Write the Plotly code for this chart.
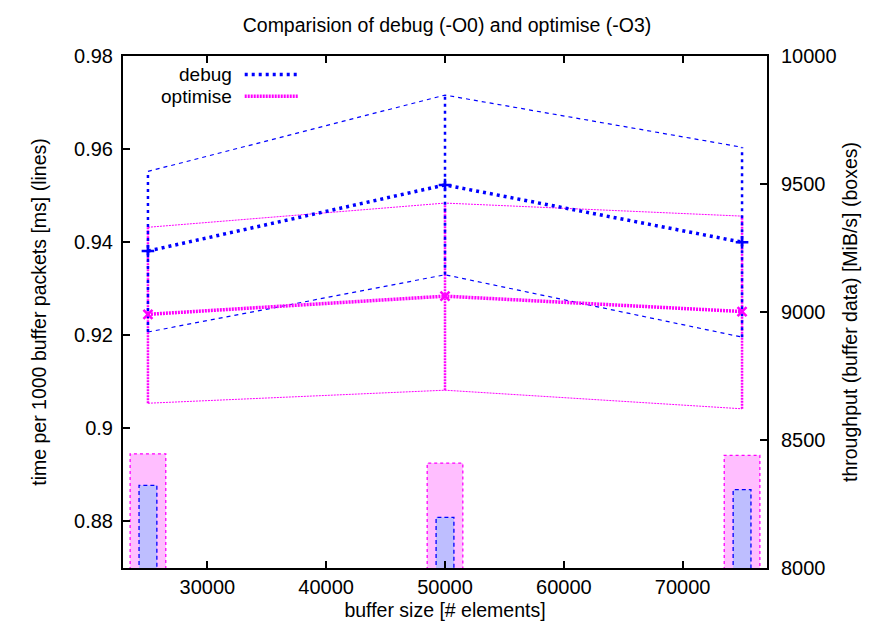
import plotly.graph_objects as go

# ---- data ----
buffer_sizes = [25000, 50000, 75000]

debug_mean = [0.9381, 0.9523, 0.9400]
debug_min = [0.9207, 0.9330, 0.9196]
debug_max = [0.9552, 0.9716, 0.9604]

opt_mean = [0.9245, 0.9284, 0.9251]
opt_min = [0.9054, 0.9082, 0.9042]
opt_max = [0.9432, 0.9484, 0.9456]

debug_throughput = [8323, 8198, 8306]
opt_throughput = [8446, 8410, 8440]

debug_box_width = 1500
opt_box_width = 3000

left_tickvals = [0.88, 0.90, 0.92, 0.94, 0.96, 0.98]
left_ticktext = ["0.88", "0.9", "0.92", "0.94", "0.96", "0.98"]
right_tickvals = [8000, 8500, 9000, 9500, 10000]
right_ticktext = ["8000", "8500", "9000", "9500", "10000"]
x_tickvals = [30000, 40000, 50000, 60000, 70000]

BLUE = "#0000FF"
MAG = "#FF00FF"
FONT = "Liberation Sans, Arial, Helvetica, sans-serif"
TICK_FS = 20
TITLE_FS = 19.5

fig = go.Figure()


def boxes(centers, heights, width, fill, color, dash, lw):
    xs, ys = [], []
    for c, h in zip(centers, heights):
        xs += [c - width / 2, c - width / 2, c + width / 2, c + width / 2, c - width / 2, None]
        ys += [0, h, h, 0, 0, None]
    fig.add_trace(go.Scatter(
        x=xs, y=ys, yaxis="y2", mode="lines", fill="toself", fillcolor=fill,
        line=dict(color=color, dash=dash, width=lw), showlegend=False, hoverinfo="skip"))


boxes(buffer_sizes, opt_throughput, opt_box_width, "rgb(255,190,255)", MAG, "dot", 1.3)
boxes(buffer_sizes, debug_throughput, debug_box_width, "rgb(190,190,255)", BLUE, "4px,3px", 1.3)


def vbars(lo, hi, color, dash, lw):
    xs, ys = [], []
    for x, a, b in zip(buffer_sizes, lo, hi):
        xs += [x, x, None]
        ys += [a, b, None]
    fig.add_trace(go.Scatter(x=xs, y=ys, mode="lines",
                             line=dict(color=color, dash=dash, width=lw),
                             showlegend=False, hoverinfo="skip"))


# min / max envelopes
fig.add_trace(go.Scatter(x=buffer_sizes, y=debug_max, mode="lines",
                         line=dict(color=BLUE, dash="4px,4px", width=1.2), showlegend=False))
fig.add_trace(go.Scatter(x=buffer_sizes, y=debug_min, mode="lines",
                         line=dict(color=BLUE, dash="4px,4px", width=1.2), showlegend=False))
fig.add_trace(go.Scatter(x=buffer_sizes, y=opt_max, mode="lines",
                         line=dict(color=MAG, dash="2px,1px", width=1.0), showlegend=False))
fig.add_trace(go.Scatter(x=buffer_sizes, y=opt_min, mode="lines",
                         line=dict(color=MAG, dash="2px,1px", width=1.0), showlegend=False))

vbars(opt_min, opt_max, MAG, "2px,1px", 2.5)
vbars(debug_min, debug_max, BLUE, "3px,4px", 2.5)

fig.add_trace(go.Scatter(x=buffer_sizes, y=opt_mean, mode="lines+markers", name="optimise",
                         line=dict(color=MAG, dash="2px,1px", width=3.5),
                         marker=dict(symbol="x-thin", size=9, line=dict(color=MAG, width=2.5)),
                         showlegend=False))
fig.add_trace(go.Scatter(x=buffer_sizes, y=debug_mean, mode="lines+markers", name="debug",
                         line=dict(color=BLUE, dash="3px,4px", width=3.5),
                         marker=dict(symbol="cross-thin", size=9, line=dict(color=BLUE, width=2.5)),
                         showlegend=False))

# legend (drawn as annotations + sample lines)
for label, yy, col, dash in [("debug", 0.9640, BLUE, "3px,4px"), ("optimise", 0.9215, MAG, "2px,1px")]:
    fig.add_annotation(xref="paper", yref="paper", x=0.171, y=yy, text=label,
                       showarrow=False, xanchor="right", yanchor="middle", borderpad=0,
                       font=dict(family=FONT, size=19, color="black"))
    fig.add_shape(type="line", xref="paper", yref="paper", x0=0.189, x1=0.272, y0=yy, y1=yy,
                  line=dict(color=col, width=3.5, dash=dash))

fig.update_layout(
    width=878, height=626,
    margin=dict(l=115, r=119, t=48, b=66),
    paper_bgcolor="white", plot_bgcolor="white",
    font=dict(family=FONT, size=TICK_FS, color="black"),
    title=dict(text="Comparision of debug (-O0) and optimise (-O3)", x=0.5, xanchor="center",
               y=0.972, yanchor="middle", font=dict(size=TITLE_FS)),
    showlegend=False,
    xaxis=dict(range=[22900, 77100], tickvals=x_tickvals, tickformat="d",
               showline=True, linecolor="black", linewidth=2, mirror="ticks",
               ticks="inside", ticklen=7, tickwidth=2, tickcolor="black",
               showgrid=False, zeroline=False,
               title=dict(text="buffer size [# elements]", standoff=6, font=dict(size=TITLE_FS))),
    yaxis=dict(range=[0.87, 0.98], tickvals=left_tickvals, ticktext=left_ticktext,
               showline=True, linecolor="black", linewidth=2,
               ticks="inside", ticklen=7, tickwidth=2, tickcolor="black",
               showgrid=False, zeroline=False, ticklabelstandoff=4,
               title=dict(text="time per 1000 buffer packets [ms] (lines)", standoff=22,
                          font=dict(size=TITLE_FS))),
    yaxis2=dict(range=[8000, 10000], tickvals=right_tickvals, ticktext=right_ticktext,
                overlaying="y", side="right",
                showline=True, linecolor="black", linewidth=2,
                ticks="inside", ticklen=7, tickwidth=2, tickcolor="black",
                showgrid=False, zeroline=False, ticklabelstandoff=8,
                title=dict(text="throughput (buffer data) [MiB/s] (boxes)", standoff=8,
                           font=dict(size=TITLE_FS))),
)

fig.write_html("out.html")
